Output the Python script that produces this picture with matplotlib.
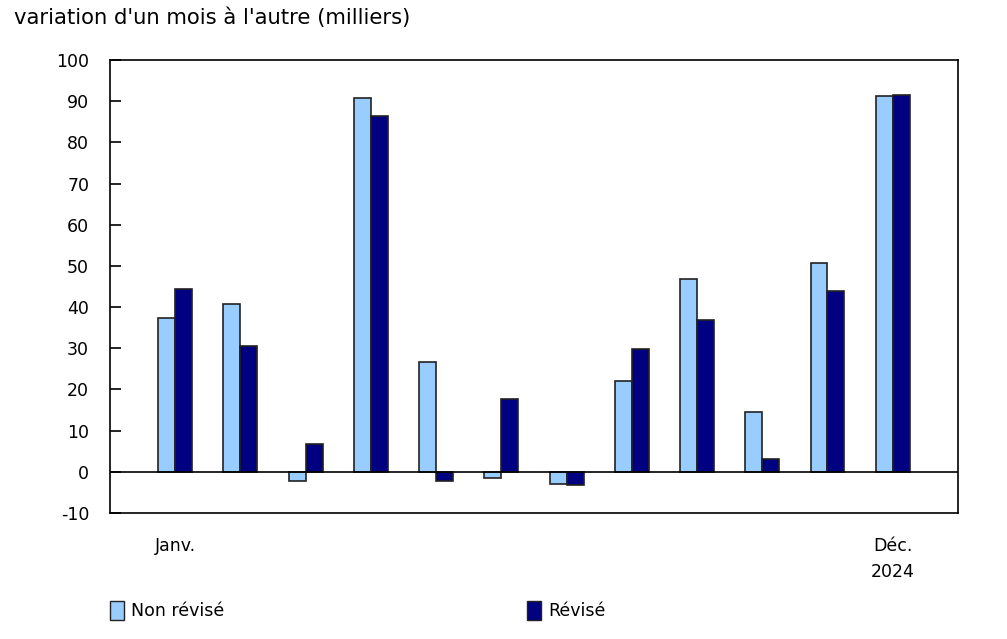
import numpy as np
import matplotlib
matplotlib.use("Agg")
import matplotlib.pyplot as plt
from matplotlib.patches import Patch

# Monthly change (thousands), Jan..Dec 2024
months = ["Janv.", "", "", "", "", "", "", "", "", "", "", "Déc.\n2024"]
nonRevise = [37.4, 40.8, -2.3, 90.7, 26.7, -1.6, -3.0, 22.1, 46.8, 14.5, 50.6, 91.2]
revise = [44.3, 30.6, 6.8, 86.3, -2.3, 17.6, -3.2, 29.8, 36.8, 3.2, 43.9, 91.4]
yTicks = list(range(-10, 101, 10))

lightBlue = "#99ccff"
navy = "#000080"

fig = plt.figure(figsize=(10.07, 6.39), dpi=100)
ax = fig.add_axes([0.1092, 0.1972, 0.8421, 0.7089])

x = np.arange(len(months))
w = 0.26
ax.bar(x - w / 2, nonRevise, width=w, color=lightBlue, edgecolor="#222222", linewidth=1.2)
ax.bar(x + w / 2, revise, width=w, color=navy, edgecolor="#222222", linewidth=1.2)

ax.axhline(0, color="black", linewidth=1.2)
ax.set_xlim(-1, 12)
ax.set_ylim(-10, 100)
ax.set_yticks(yTicks)
ax.set_yticklabels([str(t) for t in yTicks], fontsize=12.5)
ax.tick_params(axis="y", direction="in", length=8, width=1.2, pad=15)
ax.set_xticks(x)
ax.set_xticklabels(months, fontsize=12.5, linespacing=1.6, va="top")
ax.tick_params(axis="x", length=0, pad=17)
for s in ax.spines.values():
    s.set_linewidth(1.2)

fig.text(0.014, 0.972, "variation d'un mois à l'autre (milliers)", fontsize=15.2, va="center", ha="left")

# Legend, two entries placed apart as in the original
h1 = [Patch(facecolor=lightBlue, edgecolor="#222222", label="Non révisé")]
h2 = [Patch(facecolor=navy, edgecolor="#222222", label="Révisé")]
leg1 = fig.legend(handles=h1, loc="center left", bbox_to_anchor=(0.094, 0.045), frameon=False,
                  fontsize=12.5, handlelength=0.8, handleheight=1.3, handletextpad=0.4)
leg2 = fig.legend(handles=h2, loc="center left", bbox_to_anchor=(0.508, 0.045), frameon=False,
                  fontsize=12.5, handlelength=0.8, handleheight=1.3, handletextpad=0.4)

fig.savefig("out.png", dpi=100)
